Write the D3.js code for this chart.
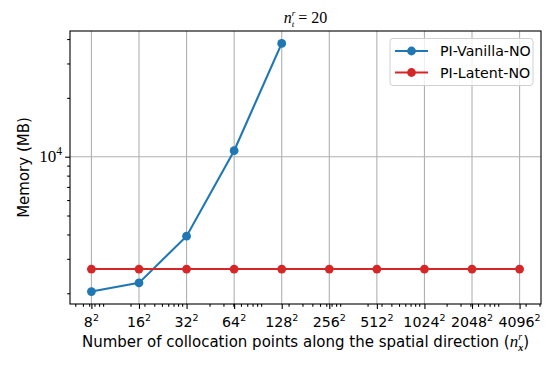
<!DOCTYPE html>
<html><head><meta charset="utf-8">
<script src="https://cdn.jsdelivr.net/npm/d3@7"></script>
<style>body{margin:0;background:#fff}svg{display:block}</style>
</head><body><svg id="c" width="556" height="366"></svg>
<script>
// ---- data ----
const categories = [8, 16, 32, 64, 128, 256, 512, 1024, 2048, 4096]; // n, collocation points = n^2
const vanillaMemory = [2040, 2260, 3920, 10730, 38000, null, null, null, null, null];
const latentMemory  = [2660, 2660, 2660, 2660, 2660, 2660, 2660, 2660, 2660, 2660];
const seriesNames = ["PI-Vanilla-NO", "PI-Latent-NO"];
const yMajorTicks = [10000];

const W = 556, H = 366;
const L = 70, R = 541, T = 31, B = 304;
const blue = "#1f77b4", red = "#d62728";
const sans = "'DejaVu Sans', sans-serif";
const serif = "'Liberation Serif', 'DejaVu Serif', serif";

const svg = d3.select("#c");
const xs = categories.map(n => n * n);

function logPad(vals) {
  const lo = Math.log10(d3.min(vals)), hi = Math.log10(d3.max(vals));
  const p = (hi - lo) * 0.05;
  return [Math.pow(10, lo - p), Math.pow(10, hi + p)];
}
const x = d3.scaleLog().domain(logPad(xs)).range([L, R]);
const allY = vanillaMemory.concat(latentMemory).filter(v => v != null);
const y = d3.scaleLog().domain(logPad(allY)).range([B, T]);

// minor ticks
function minors(dom) {
  const out = [];
  for (let k = Math.floor(Math.log10(dom[0])); k <= Math.ceil(Math.log10(dom[1])); k++)
    for (let s = 2; s <= 9; s++) { const v = s * Math.pow(10, k); if (v >= dom[0] && v <= dom[1]) out.push(v); }
  return out;
}

// grid
const grid = svg.append("g").attr("stroke", "#b0b0b0").attr("stroke-width", 1.1);
xs.forEach(v => grid.append("line").attr("x1", x(v)).attr("x2", x(v)).attr("y1", T).attr("y2", B));
yMajorTicks.forEach(v => grid.append("line").attr("x1", L).attr("x2", R).attr("y1", y(v)).attr("y2", y(v)));

// axes
const xAxis = svg.append("g").attr("transform", `translate(0,${B})`)
  .call(d3.axisBottom(x).tickValues(xs).tickSize(4.9).tickFormat(""));
const xMinor = svg.append("g").attr("transform", `translate(0,${B})`)
  .call(d3.axisBottom(x).tickValues(minors(x.domain())).tickSize(2.8).tickFormat(""));
const yAxis = svg.append("g").attr("transform", `translate(${L},0)`)
  .call(d3.axisLeft(y).tickValues(yMajorTicks).tickSize(4.9).tickFormat(""));
const yMinor = svg.append("g").attr("transform", `translate(${L},0)`)
  .call(d3.axisLeft(y).tickValues(minors(y.domain())).tickSize(2.8).tickFormat(""));
[xAxis, xMinor, yAxis, yMinor].forEach(g => {
  g.select(".domain").remove();
  g.selectAll("line").attr("stroke", "#000").attr("stroke-width", 1.1);
});

// x tick labels
xs.forEach((v, i) => {
  const t = svg.append("text").attr("x", x(v)).attr("y", B + 23).attr("text-anchor", "middle")
    .attr("font-family", sans).attr("font-size", 14.2).attr("fill", "#000");
  t.append("tspan").text(categories[i]);
  t.append("tspan").attr("font-size", 9.5).attr("dy", -6).text("2");
});
// y tick label
yMajorTicks.forEach(v => {
  const t = svg.append("text").attr("x", L - 8).attr("y", y(v) + 5).attr("text-anchor", "end")
    .attr("font-family", serif).attr("font-size", 17).attr("fill", "#000");
  t.append("tspan").text("10");
  t.append("tspan").attr("font-size", 11.5).attr("dy", -7).text(Math.log10(v));
});

// spines
svg.append("rect").attr("x", L).attr("y", T).attr("width", R - L).attr("height", B - T)
  .attr("fill", "none").attr("stroke", "#000").attr("stroke-width", 1.1);

// series
const line = d3.line().defined(d => d[1] != null).x(d => x(d[0])).y(d => y(d[1]));
const series = [[vanillaMemory, blue], [latentMemory, red]];
series.forEach(([vals, col]) => {
  const pts = xs.map((v, i) => [v, vals[i]]);
  svg.append("path").datum(pts).attr("d", line).attr("fill", "none").attr("stroke", col).attr("stroke-width", 2.1);
  svg.selectAll(null).data(pts.filter(d => d[1] != null)).enter().append("circle")
    .attr("cx", d => x(d[0])).attr("cy", d => y(d[1])).attr("r", 4.4).attr("fill", col);
});

// title
const title = svg.append("text").attr("x", (L + R) / 2).attr("y", 23).attr("text-anchor", "middle")
  .attr("font-family", serif).attr("font-size", 16).attr("fill", "#000");
title.append("tspan").attr("font-style", "italic").text("n");
title.append("tspan").attr("font-style", "italic").attr("font-size", 9).attr("dy", -7.5).text("r");
title.append("tspan").attr("font-style", "italic").attr("font-size", 9).attr("dx", -3.5).attr("dy", 11.5).text("t");
title.append("tspan").attr("dy", -4).text(" = 20");

// axis labels
const xl = svg.append("text").attr("x", (L + R) / 2).attr("y", 347).attr("text-anchor", "middle")
  .attr("font-family", sans).attr("font-size", 15).attr("fill", "#000");
xl.append("tspan").text("Number of collocation points along the spatial direction (");
xl.append("tspan").attr("font-family", serif).attr("font-style", "italic").attr("font-size", 17).text("n");
xl.append("tspan").attr("font-family", serif).attr("font-style", "italic").attr("font-size", 10).attr("dy", -7.5).text("r");
xl.append("tspan").attr("font-family", serif).attr("font-style", "italic").attr("font-weight", "bold").attr("font-size", 10).attr("dx", -4).attr("dy", 11.5).text("x");
xl.append("tspan").attr("dy", -4).text(")");

svg.append("text").attr("transform", `translate(29,${(T + B) / 2}) rotate(-90)`).attr("text-anchor", "middle")
  .attr("font-family", sans).attr("font-size", 15).attr("fill", "#000").text("Memory (MB)");

// legend
const lg = svg.append("g");
lg.append("rect").attr("x", 390).attr("y", 38.5).attr("width", 143).attr("height", 47).attr("rx", 3)
  .attr("fill", "#fff").attr("fill-opacity", 0.8).attr("stroke", "#d0d0d0").attr("stroke-width", 1);
seriesNames.forEach((nm, i) => {
  const yy = 51 + i * 21.5;
  const col = series[i][1];
  lg.append("line").attr("x1", 395).attr("x2", 428).attr("y1", yy).attr("y2", yy).attr("stroke", col).attr("stroke-width", 2.1);
  lg.append("circle").attr("cx", 411.5).attr("cy", yy).attr("r", 4.4).attr("fill", col);
  lg.append("text").attr("x", 440).attr("y", yy + 5.2).attr("font-family", sans).attr("font-size", 14.2).attr("fill", "#000").text(nm);
});
</script></body></html>
